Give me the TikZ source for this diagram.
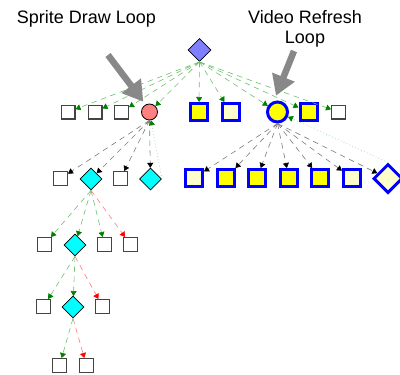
\documentclass[tikz,border=0pt]{standalone}
\usepackage{fontspec}
\setmainfont{Liberation Sans}
\usetikzlibrary{shapes.geometric,arrows.meta}

\definecolor{rootblue}{HTML}{8080FF}
\definecolor{spritered}{HTML}{FF8080}
\definecolor{paleyellow}{HTML}{FFFFCC}
\definecolor{brightyellow}{HTML}{FFFF00}
\definecolor{pureblue}{HTML}{0000FF}
\definecolor{purecyan}{HTML}{00FFFF}
\definecolor{edgegreen}{HTML}{6CC06C}
\definecolor{tipgreen}{HTML}{008000}
\definecolor{edgered}{HTML}{FF7A7A}
\definecolor{tipred}{HTML}{FF0000}
\definecolor{edgegray}{HTML}{7A7A7A}
\definecolor{boxgray}{HTML}{444444}
\definecolor{pointer}{HTML}{888888}

\tikzset{
  leaf/.style={draw=boxgray, line width=1.3pt, fill=white, minimum size=13.7pt, inner sep=0pt},
  bluebox/.style={draw=pureblue, line width=3pt, minimum size=17pt, inner sep=0pt},
  cyandia/.style={diamond, draw=black, fill=purecyan, line width=0.8pt, minimum size=22pt, inner sep=0pt},
  rootdia/.style={diamond, draw=black, fill=rootblue, line width=0.8pt, minimum size=23pt, inner sep=0pt},
  spritecirc/.style={circle, draw=black, fill=spritered, line width=0.8pt, minimum size=16pt, inner sep=0pt},
  videocirc/.style={circle, draw=pureblue, fill=brightyellow, line width=3pt, minimum size=20pt, inner sep=0pt},
  bigdia/.style={diamond, draw=pureblue, fill=paleyellow, line width=3pt, minimum size=29pt, inner sep=0pt},
  dashes/.style={line width=0.6pt, dash pattern=on 5.5pt off 4.5pt},
  gedge/.style={dashes, draw=edgegreen, -{Triangle[length=5pt,width=6pt,color=tipgreen]}},
  redge/.style={dashes, draw=edgered, -{Triangle[length=5pt,width=6pt,color=tipred]}},
  kedge/.style={dashes, draw=edgegray, -{Triangle[length=5pt,width=6pt,color=black]}},
  gdot/.style={line width=0.6pt, draw=edgegreen!70, dash pattern=on 0.8pt off 2.4pt, -{Triangle[length=5pt,width=6pt,color=tipgreen]}},
  pointerarrow/.style={draw=pointer, line width=6.5pt, -{Triangle[length=20pt,width=23pt,color=pointer]}},
  caption/.style={font=\fontsize{18}{20}\selectfont, inner sep=0pt, align=center}
}

\begin{document}
\begin{tikzpicture}[x=1pt,y=-1pt]
\useasboundingbox (0,0) rectangle (400,375);

% labels
\node[caption] (spritelabel) at (86.5,19) {Sprite Draw Loop};
\node[caption] (videolabel) at (305,29) {Video Refresh\\Loop};

% root
\node[rootdia] (root) at (199.5,50) {};

% first level
\node[leaf] (a1) at (68,112) {};
\node[leaf] (a2) at (95,112) {};
\node[leaf] (a3) at (121.5,112) {};
\node[spritecirc] (sprite) at (149.5,112) {};
\node[bluebox, fill=brightyellow] (b1) at (199,112) {};
\node[bluebox, fill=paleyellow] (b2) at (230.5,112) {};
\node[videocirc] (video) at (277.5,112) {};
\node[bluebox, fill=brightyellow] (b3) at (308.5,112) {};
\node[leaf] (a4) at (338.5,112) {};

% second level, sprite side
\node[leaf] (c1) at (60.5,178.5) {};
\node[cyandia] (d1) at (91,179) {};
\node[leaf] (c2) at (120.5,178.5) {};
\node[cyandia] (d2) at (150.5,179) {};

% second level, video side
\node[bluebox, fill=paleyellow] (e1) at (194,178) {};
\node[bluebox, fill=brightyellow] (e2) at (226,178) {};
\node[bluebox, fill=brightyellow] (e3) at (257,178) {};
\node[bluebox, fill=brightyellow] (e4) at (289,178) {};
\node[bluebox, fill=brightyellow] (e5) at (320,178) {};
\node[bluebox, fill=paleyellow] (e6) at (352,178) {};
\node[bigdia] (bigd) at (388,178.5) {};

% third level
\node[leaf] (f1) at (44.5,244.5) {};
\node[cyandia] (d3) at (75,245) {};
\node[leaf] (f2) at (104.5,244.5) {};
\node[leaf] (f3) at (130.5,244.5) {};

% fourth level
\node[leaf] (g1) at (43.5,306.5) {};
\node[cyandia] (d4) at (73,307) {};
\node[leaf] (g2) at (102.5,306.5) {};

% fifth level
\node[leaf] (h1) at (59.5,365.5) {};
\node[leaf] (h2) at (86.5,365.5) {};

% root edges
\foreach \t in {a1,a2,a3,sprite,b1,b2,video,b3,a4}
  \draw[gedge] (root.south) -- (\t);

% sprite loop edges
\foreach \t in {c1,d1,c2,d2}
  \draw[kedge] (sprite.south) -- (\t);
\draw[gdot] (d2.east) -- (sprite);

% video refresh edges
\foreach \t in {e1,e2,e3,e4,e5,e6,bigd}
  \draw[kedge] (video.south) -- (\t);
\draw[gdot] (bigd.north) -- (video);

% branch chain
\foreach \t in {f1,d3,f2}
  \draw[gedge] (d1.south) -- (\t);
\draw[redge] (d1.south) -- (f3);
\foreach \t in {g1,d4}
  \draw[gedge] (d3.south) -- (\t);
\draw[redge] (d3.south) -- (g2);
\draw[gedge] (d4.south) -- (h1);
\draw[redge] (d4.south) -- (h2);

% pointer arrows
\coordinate (spritefrom) at (108,55);
\coordinate (spriteto) at (143.3,101.7);
\coordinate (videofrom) at (294,51);
\coordinate (videoto) at (276,95.7);
\draw[pointerarrow] (spritefrom) -- (spriteto);
\draw[pointerarrow] (videofrom) -- (videoto);
\end{tikzpicture}
\end{document}
